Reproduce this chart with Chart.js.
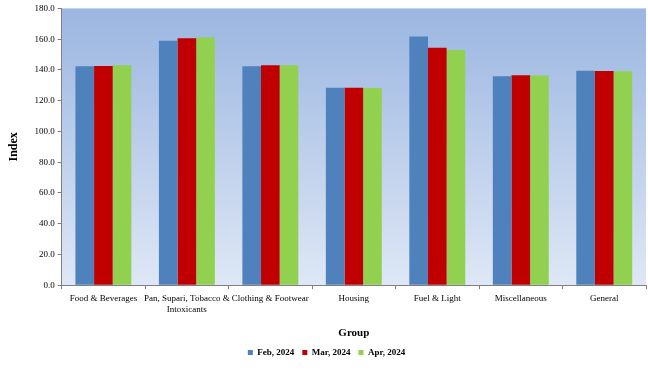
<!DOCTYPE html>
<html>
<head>
<meta charset="utf-8">
<script src="https://cdn.jsdelivr.net/npm/chart.js@4.4.1/dist/chart.umd.min.js"></script>
<style>
  html, body { margin: 0; padding: 0; background: #ffffff; }
  #wrap { width: 648px; height: 380px; position: relative; }
</style>
</head>
<body>
<div id="wrap"><canvas id="chart"></canvas></div>
<script>
// Categories and series.
const categories = [
    'Food & Beverages',
    ['Pan, Supari, Tobacco &', 'Intoxicants'],
    'Clothing & Footwear',
    'Housing',
    'Fuel & Light',
    'Miscellaneous',
    'General'
];
const seriesNames = ['Feb, 2024', 'Mar, 2024', 'Apr, 2024'];
const feb2024 = [142.4, 159.0, 142.4, 128.4, 161.7, 135.9, 139.4];
const mar2024 = [142.5, 160.6, 143.0, 128.4, 154.4, 136.5, 139.3];
const apr2024 = [143.1, 161.1, 143.0, 128.3, 152.9, 136.3, 139.2];
const barColors = ['#4F81BD', '#C00000', '#92D050'];

const serif = '"Liberation Serif", "Times New Roman", serif';

// Draw the blue gradient behind the bars, inside the plot area only.
const plotBackground = {
    id: 'plotBackground',
    beforeDraw(chart) {
        const { ctx, chartArea } = chart;
        const grad = ctx.createLinearGradient(0, chartArea.top, 0, chartArea.bottom);
        grad.addColorStop(0, '#9BB6E1');
        grad.addColorStop(1, '#DEE7F5');
        ctx.save();
        ctx.fillStyle = grad;
        ctx.fillRect(chartArea.left, chartArea.top, chartArea.right - chartArea.left, chartArea.bottom - chartArea.top);
        ctx.restore();
    }
};

const datasets = [feb2024, mar2024, apr2024].map((values, i) => ({
    label: seriesNames[i],
    data: values,
    backgroundColor: barColors[i],
    borderWidth: 0,
    barPercentage: 1.0,
    categoryPercentage: 0.67
}));

new Chart(document.getElementById('chart'), {
    type: 'bar',
    data: {
        labels: categories,
        datasets: datasets
    },
    options: {
        responsive: true,
        maintainAspectRatio: false,
        animation: false,
        layout: {
            padding: { left: 7, right: 2, top: 0, bottom: 13 }
        },
        plugins: {
            legend: {
                position: 'bottom',
                labels: {
                    font: { family: serif, size: 9, weight: 'bold' },
                    color: '#000000',
                    boxWidth: 5,
                    boxHeight: 5,
                    padding: 8
                }
            },
            tooltip: { enabled: false }
        },
        scales: {
            x: {
                grid: { drawOnChartArea: false, drawTicks: true, tickLength: 4, color: '#808080' },
                border: { color: '#808080' },
                ticks: {
                    font: { family: serif, size: 9 },
                    color: '#000000',
                    maxRotation: 0,
                    autoSkip: false,
                    padding: 4
                },
                title: {
                    display: true,
                    text: 'Group',
                    font: { family: serif, size: 11, weight: 'bold' },
                    color: '#000000',
                    padding: { top: 8, bottom: 0 }
                }
            },
            y: {
                min: 0,
                max: 180,
                grid: { drawOnChartArea: false, drawTicks: true, tickLength: 4, color: '#808080' },
                border: { color: '#808080' },
                ticks: {
                    stepSize: 20,
                    font: { family: serif, size: 9 },
                    color: '#000000',
                    padding: 3,
                    callback: v => v.toFixed(1)
                },
                title: {
                    display: true,
                    text: 'Index',
                    font: { family: serif, size: 12, weight: 'bold' },
                    color: '#000000',
                    padding: { top: 0, bottom: 10 }
                }
            }
        }
    },
    plugins: [plotBackground]
});
</script>
</body>
</html>
